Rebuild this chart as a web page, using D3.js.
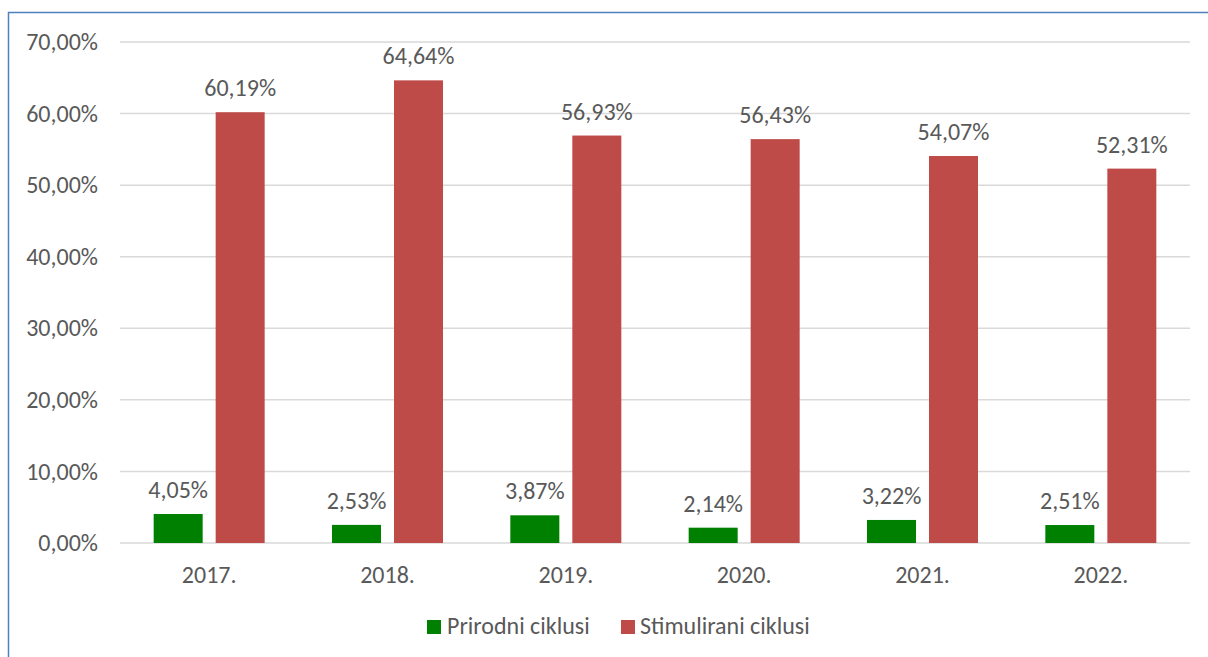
<!DOCTYPE html>
<html><head><meta charset="utf-8">
<script src="https://cdn.jsdelivr.net/npm/d3@7"></script>
<style>body{margin:0;background:#fff;} svg{display:block;}</style>
</head><body>
<svg id="c" width="1208" height="657"></svg>
<script>
const categories = ["2017.", "2018.", "2019.", "2020.", "2021.", "2022."];
const seriesNames = ["Prirodni ciklusi", "Stimulirani ciklusi"];
const prirodni = [4.05, 2.53, 3.87, 2.14, 3.22, 2.51];
const stimulirani = [60.19, 64.64, 56.93, 56.43, 54.07, 52.31];
const yTicks = [0, 10, 20, 30, 40, 50, 60, 70];
const colors = ["#008000", "#BE4B48"];

const svg = d3.select("#c");
const font = "Carlito, Calibri, 'Liberation Sans', sans-serif";
const fs = 24;
const textCol = "#595959";
const fmt = v => v.toFixed(2).replace(".", ",") + "%";

// frame
svg.append("path").attr("d", "M8.5,657 V12.5 H1208").attr("fill", "none").attr("stroke", "#4F81BD").attr("stroke-width", 1.5);

const x0 = d3.scaleBand().domain(categories).range([120, 1190]).paddingInner(0).paddingOuter(0);
const y = d3.scaleLinear().domain([0, 70]).range([543, 42]);
const bw = 49, gap = 13;

// grid
svg.append("g").selectAll("line").data(yTicks).join("line")
  .attr("x1", 120).attr("x2", 1190).attr("y1", d => y(d)).attr("y2", d => y(d))
  .attr("stroke", "#D9D9D9").attr("stroke-width", 1.5);

// y axis labels
const yAxis = d3.axisLeft(y).tickValues(yTicks).tickFormat(fmt).tickSize(0).tickPadding(0);
const ga = svg.append("g").attr("transform", "translate(98,0)").call(yAxis);
ga.select(".domain").remove();
ga.selectAll("text").attr("font-family", font).attr("font-size", fs).attr("fill", textCol);

// x axis labels
const xAxis = d3.axisBottom(x0).tickSize(0).tickPadding(0);
const gx = svg.append("g").attr("transform", "translate(0,566)").call(xAxis);
gx.select(".domain").remove();
gx.selectAll("text").attr("font-family", font).attr("font-size", fs).attr("fill", textCol);

const series = [prirodni, stimulirani];
series.forEach((vals, si) => {
  const g = svg.append("g");
  const bx = (c) => x0(c) + x0.bandwidth() / 2 - (bw + gap / 2) + si * (bw + gap);
  g.selectAll("rect").data(categories).join("rect")
    .attr("x", c => bx(c)).attr("width", bw)
    .attr("y", (c, i) => y(vals[i])).attr("height", (c, i) => y(0) - y(vals[i]))
    .attr("fill", colors[si]);
  g.selectAll("text").data(categories).join("text")
    .attr("x", c => bx(c) + bw / 2).attr("y", (c, i) => y(vals[i]) - 16)
    .attr("text-anchor", "middle").attr("font-family", font).attr("font-size", fs).attr("fill", textCol)
    .text((c, i) => fmt(vals[i]));
});

// legend
const leg = svg.append("g");
const legItems = [{x: 427, tx: 447}, {x: 621, tx: 640}];
seriesNames.forEach((n, i) => {
  leg.append("rect").attr("x", legItems[i].x).attr("y", 620).attr("width", 14).attr("height", 14).attr("fill", colors[i]);
  leg.append("text").attr("x", legItems[i].tx).attr("y", 634).attr("font-family", font).attr("font-size", fs).attr("fill", textCol).text(n);
});
</script>
</body></html>
